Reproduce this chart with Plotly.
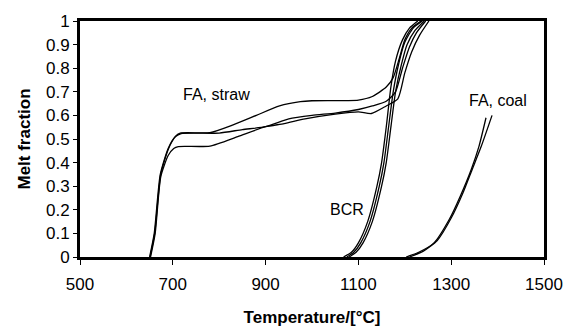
import plotly.graph_objects as go

# FA, straw (three runs)
straw1_t = [650, 660, 673, 690, 705, 716, 780, 830, 880, 930, 975, 1000, 1100, 1130, 1160, 1175, 1188, 1200, 1215, 1235]
straw1_y = [0.0, 0.10, 0.35, 0.46, 0.51, 0.525, 0.527, 0.56, 0.60, 0.64, 0.658, 0.662, 0.665, 0.68, 0.72, 0.76, 0.84, 0.92, 0.97, 1.0]
straw2_t = [651, 661, 674, 691, 706, 718, 800, 850, 900, 950, 1000, 1050, 1100, 1130, 1160, 1180, 1195, 1210, 1225, 1245]
straw2_y = [0.0, 0.10, 0.35, 0.46, 0.51, 0.523, 0.525, 0.54, 0.552, 0.585, 0.60, 0.61, 0.625, 0.64, 0.66, 0.70, 0.80, 0.89, 0.95, 1.0]
straw3_t = [652, 662, 674, 690, 702, 712, 780, 840, 900, 940, 985, 1050, 1100, 1128, 1160, 1185, 1200, 1215, 1232, 1252]
straw3_y = [0.0, 0.10, 0.34, 0.43, 0.46, 0.468, 0.47, 0.51, 0.552, 0.565, 0.585, 0.605, 0.615, 0.608, 0.64, 0.67, 0.78, 0.87, 0.94, 1.0]

# BCR (three runs)
bcr1_t = [1068, 1085, 1100, 1120, 1140, 1150, 1160, 1170, 1180, 1195, 1210, 1228]
bcr1_y = [0.0, 0.02, 0.06, 0.15, 0.30, 0.40, 0.55, 0.72, 0.83, 0.92, 0.97, 1.0]
bcr2_t = [1075, 1090, 1105, 1125, 1145, 1155, 1165, 1175, 1187, 1200, 1218, 1238]
bcr2_y = [0.0, 0.02, 0.06, 0.15, 0.30, 0.40, 0.55, 0.70, 0.82, 0.91, 0.97, 1.0]
bcr3_t = [1080, 1095, 1110, 1130, 1150, 1160, 1170, 1180, 1192, 1205, 1222, 1242]
bcr3_y = [0.0, 0.02, 0.06, 0.15, 0.30, 0.40, 0.55, 0.70, 0.81, 0.90, 0.96, 1.0]

# FA, coal (two runs)
coal1_t = [1203, 1230, 1263, 1296, 1320, 1343, 1360, 1375]
coal1_y = [0.0, 0.02, 0.06, 0.16, 0.26, 0.37, 0.47, 0.59]
coal2_t = [1210, 1240, 1270, 1300, 1325, 1345, 1365, 1388]
coal2_y = [0.0, 0.025, 0.07, 0.165, 0.27, 0.37, 0.47, 0.60]

x_ticks = [500, 700, 900, 1100, 1300, 1500]
y_ticks = [0, 0.1, 0.2, 0.3, 0.4, 0.5, 0.6, 0.7, 0.8, 0.9, 1]
y_tick_labels = ["0", "0.1", "0.2", "0.3", "0.4", "0.5", "0.6", "0.7", "0.8", "0.9", "1"]

labels = [("FA, straw", 795, 0.69), ("BCR", 1076, 0.20), ("FA, coal", 1400, 0.665)]

series = [(straw1_t, straw1_y), (straw2_t, straw2_y), (straw3_t, straw3_y),
          (bcr1_t, bcr1_y), (bcr2_t, bcr2_y), (bcr3_t, bcr3_y),
          (coal1_t, coal1_y), (coal2_t, coal2_y)]

fig = go.Figure()
for t, y in series:
    fig.add_trace(go.Scatter(x=t, y=y, mode="lines",
                             line=dict(color="black", width=1.3, shape="spline", smoothing=0.6),
                             showlegend=False, hoverinfo="skip"))

for text, x, y in labels:
    fig.add_annotation(x=x, y=y, text=text, showarrow=False,
                       font=dict(family="Arial, Liberation Sans", size=16, color="black"))

axis_font = dict(family="Arial, Liberation Sans", size=17, color="black")
title_font = dict(family="Arial, Liberation Sans", size=17, color="black")

fig.update_layout(
    width=565, height=329,
    margin=dict(l=80, r=21, t=21, b=72),
    paper_bgcolor="white", plot_bgcolor="white",
    xaxis=dict(range=[500, 1500], tickvals=x_ticks, ticktext=[str(v) for v in x_ticks],
               showgrid=False, zeroline=False, showline=True, linecolor="black", linewidth=3,
               mirror=True, ticks="outside", ticklen=5, tickwidth=1, tickcolor="black",
               tickfont=axis_font, automargin=False, ticklabelstandoff=5,
               title=dict(text="<b>Temperature/[°C]</b>", font=title_font, standoff=18)),
    yaxis=dict(range=[0, 1], tickvals=y_ticks, ticktext=y_tick_labels,
               showgrid=False, zeroline=False, showline=True, linecolor="black", linewidth=3,
               mirror=True, ticks="outside", ticklen=4, tickwidth=1, tickcolor="black",
               tickfont=axis_font, automargin=False,
               title=dict(text="<b>Melt fraction</b>", font=title_font, standoff=12)),
)

fig.write_html("out.html")
